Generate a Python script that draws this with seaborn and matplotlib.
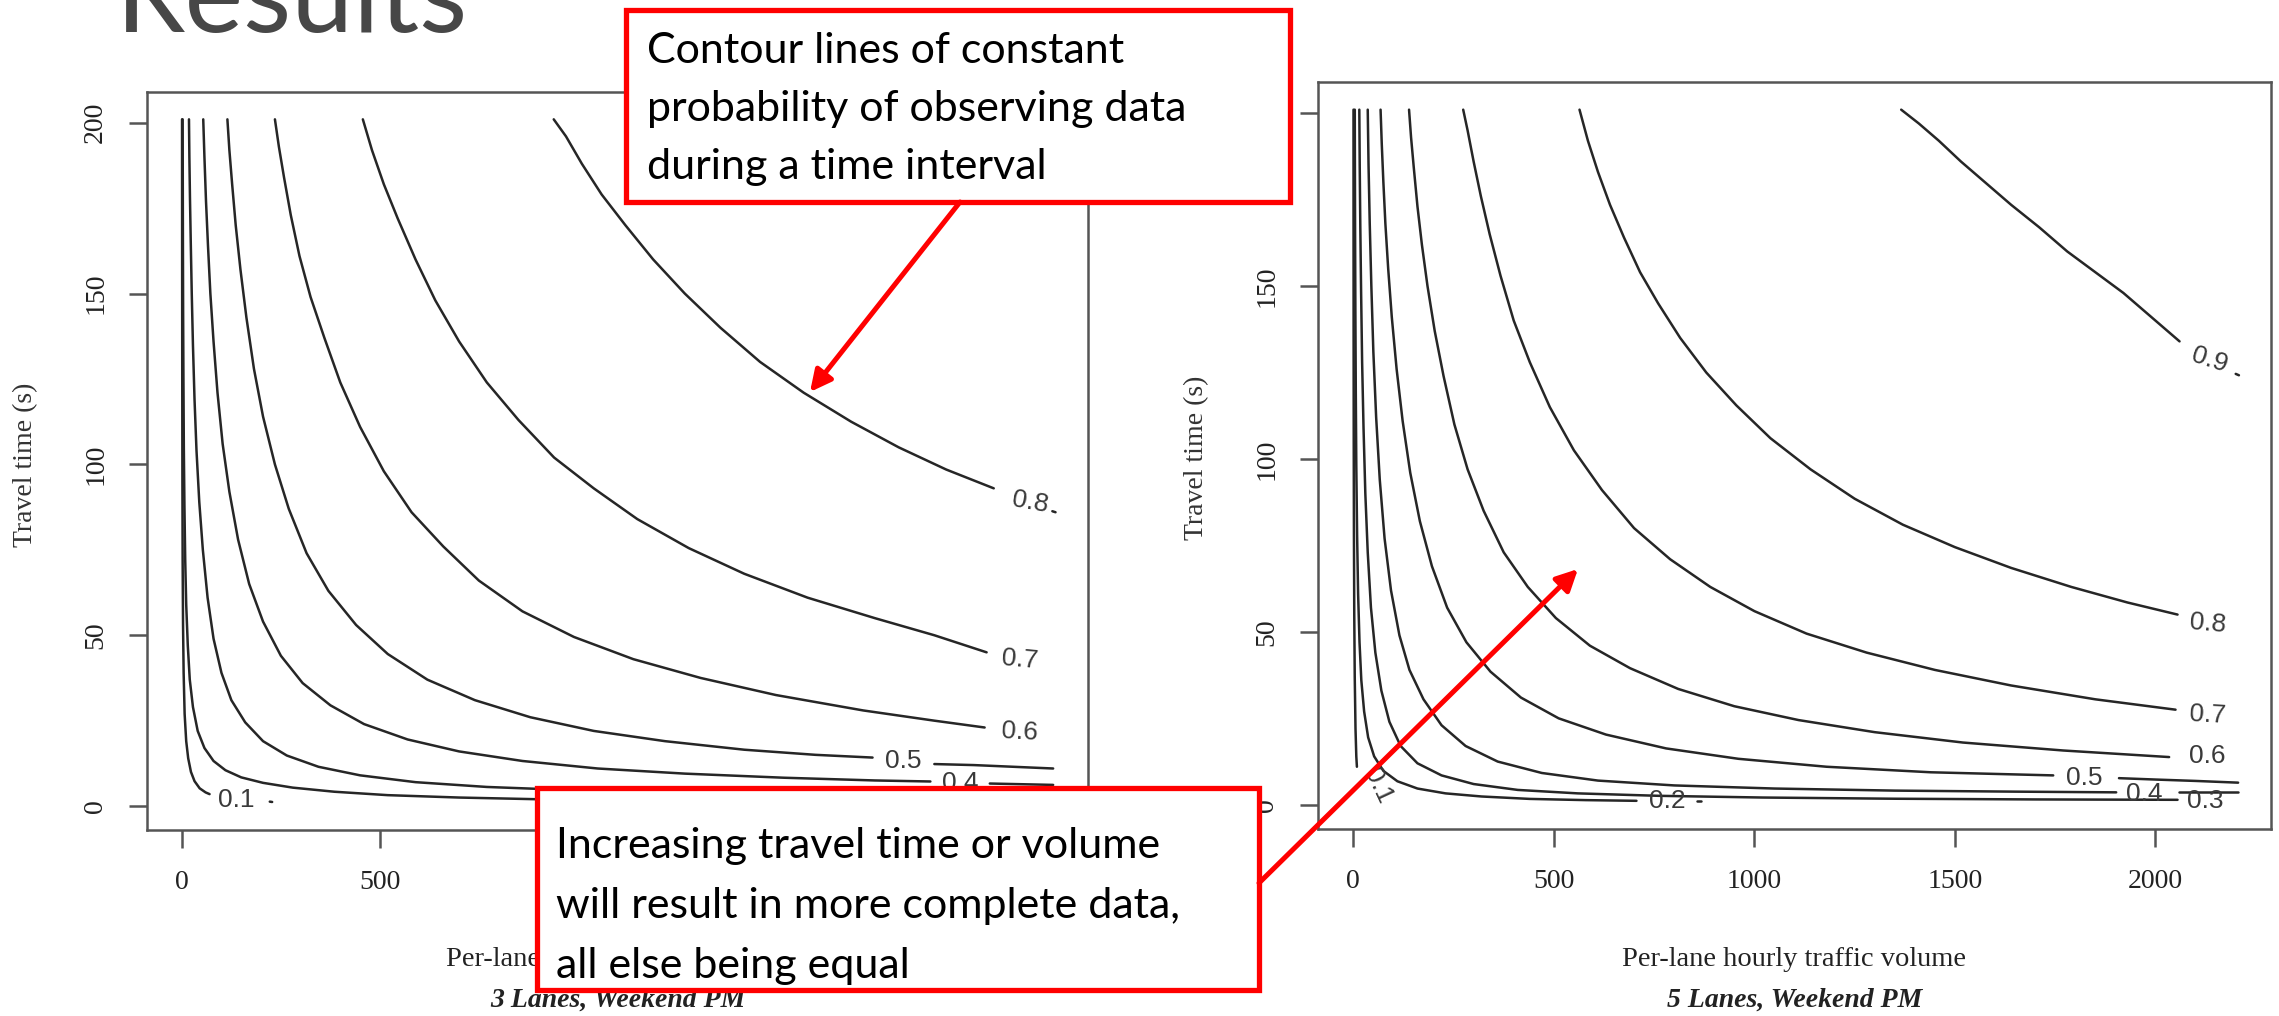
import numpy as np
import pandas as pd
import matplotlib
matplotlib.use("Agg")
import matplotlib.pyplot as plt
import seaborn as sns
from matplotlib.patches import Rectangle

# ---------------- data ----------------
LEVELS_3 = ["0.1", "0.2", "0.3", "0.4", "0.5", "0.6", "0.7", "0.8"]
LEVELS_5 = ["0.1", "0.2", "0.3", "0.4", "0.5", "0.6", "0.7", "0.8", "0.9"]
X_TICKS = [0, 500, 1000, 1500, 2000]
Y_TICKS = [0, 50, 100, 150, 200]

# 3 lanes, weekend PM  (q = per-lane hourly volume, t = travel time s)
L3_Q_01 = [0.5, 0.6, 0.75, 1, 1.4, 2, 3, 4.5, 7, 11, 16, 23, 32, 45, 60, 70]
L3_T_01 = [201, 180, 155, 125, 95, 72, 53, 39, 27, 19, 14, 10, 7.3, 5.2, 4.0, 3.5]
L3_Q_02 = [2, 2.3, 2.7, 3.2, 4, 5, 6.5, 8.5, 11, 15, 20, 28, 40, 57, 80, 110, 150, 205,
           280, 385, 520, 700, 900, 1150]
L3_T_02 = [201, 185, 165, 145, 125, 105, 88, 72, 59, 47, 37, 29, 22, 17, 13.2, 10.5, 8.4, 6.8,
           5.4, 4.2, 3.2, 2.5, 2.0, 1.6]
L3_Q_03 = [18, 19, 20.5, 22.5, 25, 28, 32, 37, 44, 53, 65, 80, 100, 125, 160, 205, 265, 345,
           450, 590, 770, 1000, 1300, 1650, 2000, 2200]
L3_T_03 = [201, 190, 178, 165, 150, 135, 119, 104, 89, 75, 61, 49, 39, 31, 24.5, 19, 14.8, 11.5,
           9, 7, 5.6, 4.6, 3.8, 3.2, 2.8, 2.6]
L3_Q_04 = [54, 57, 61, 66, 72, 80, 90, 103, 120, 142, 170, 205, 250, 305, 375, 460, 570, 700,
           860, 1050, 1270, 1520, 1750, 1890]
L3_T_04 = [201, 190, 177, 164, 150, 136, 121, 106, 92, 78, 65, 54, 44, 36, 29.5, 24, 19.5, 16,
           13.2, 11, 9.5, 8.3, 7.5, 7.2]
L3_Q_05 = [115, 120, 127, 136, 148, 163, 182, 205, 235, 270, 315, 370, 440, 520, 620, 740, 880,
           1040, 1220, 1420, 1600, 1744]
L3_T_05 = [201, 192, 182, 170, 157, 143, 128, 114, 100, 87, 74, 63, 53, 44.5, 37, 31, 26,
           22, 19, 16.5, 15, 14.2]
L3_Q_06 = [235, 245, 258, 275, 297, 325, 360, 400, 450, 510, 580, 660, 750, 860, 990, 1140,
           1310, 1500, 1720, 1900, 2027]
L3_T_06 = [201, 193, 184, 173, 161, 149, 137, 124, 111, 98, 86, 76, 66, 57, 49.5, 43,
           37.5, 32.5, 28, 25, 23]
L3_Q_07 = [457, 480, 510, 545, 590, 640, 700, 770, 850, 940, 1040, 1150, 1280, 1420, 1580,
           1750, 1900, 2032]
L3_T_07 = [201, 192, 182, 172, 160, 148, 136, 124, 113, 102, 93, 84, 75.5, 68, 61,
           55, 50, 45]
L3_Q_08 = [939, 970, 1010, 1060, 1120, 1190, 1270, 1360, 1460, 1570, 1690, 1810, 1930, 2050]
L3_T_08 = [201, 196, 188, 179, 170, 160, 150, 140, 130, 121, 112.5, 105, 98.5, 93]
# short pieces of line left after a label
L3_TAIL_Q = {"0.1": [222, 228], "0.4": [2040, 2200], "0.5": [1900, 2000, 2100, 2200], "0.8": [2198, 2206]}
L3_TAIL_T = {"0.1": [1.3, 1.2], "0.4": [6.6, 6.2], "0.5": [12.3, 12.0, 11.5, 11.0], "0.8": [86.3, 86.0]}
L3_LAB_Q = [138, 1450, 2210, 1966, 1822, 2115, 2115, 2143]
L3_LAB_T = [1.8, 1.0, 2.3, 6.9, 13.3, 21.7, 43, 89]
L3_LAB_ROT = [0, 0, 0, 0, 0, -3, -5, -10]

# 5 lanes, weekend PM
L5_Q_01 = [0.5, 0.6, 0.8, 1.1, 1.6, 2.4, 3.6, 5.5, 7.5, 9]
L5_T_01 = [201, 170, 135, 105, 78, 55, 37, 22, 14, 11]
L5_Q_02 = [3.7, 4, 4.5, 5.2, 6.2, 7.5, 9.5, 12, 15.5, 20, 27, 37, 52, 75, 110, 160, 230, 320,
           440, 580, 706]
L5_T_02 = [201, 185, 165, 143, 120, 98, 78, 61, 47, 36, 27, 19.5, 14, 9.8, 6.8, 4.7, 3.3, 2.4,
           1.7, 1.35, 1.15]
L5_Q_03 = [15, 16, 17.5, 19.5, 22, 25.5, 30, 36, 44, 55, 70, 90, 118, 160, 220, 300, 410, 560,
           760, 1020, 1350, 1700, 2055]
L5_T_03 = [201, 185, 167, 148, 128, 109, 90, 73, 57, 44, 33, 24, 17, 12, 8.5, 6, 4.3, 3.3,
           2.6, 2.1, 1.75, 1.55, 1.44]
L5_Q_04 = [36, 38, 41, 45, 50, 57, 66, 78, 94, 115, 140, 175, 220, 280, 360, 470, 610, 800,
           1050, 1350, 1650, 1902]
L5_T_04 = [201, 185, 168, 150, 131, 112, 94, 77, 62, 49, 39, 30.5, 23, 17, 12.5, 9.2, 7, 5.6,
           4.7, 4.1, 3.8, 3.6]
L5_Q_05 = [68, 71, 75, 80, 87, 96, 108, 123, 142, 166, 196, 234, 282, 342, 418, 512, 630, 780,
           960, 1180, 1440, 1745]
L5_T_05 = [201, 191, 180, 168, 155, 141, 126, 111, 96, 82, 69, 57, 47, 38.5, 31, 25, 20.3, 16.3,
           13.3, 11, 9.4, 8.5]
L5_Q_06 = [139, 144, 151, 160, 171, 185, 203, 225, 252, 285, 325, 375, 435, 505, 590, 690, 810,
           950, 1110, 1300, 1520, 1770, 2034]
L5_T_06 = [201, 193, 184, 173, 162, 150, 137, 124, 110, 97, 85, 73, 63, 54, 46, 39.5, 33.5,
           28.5, 24.5, 21, 18, 15.7, 13.8]
L5_Q_07 = [274, 285, 300, 318, 340, 367, 400, 440, 490, 550, 620, 700, 790, 890, 1000, 1130,
           1280, 1450, 1640, 1850, 2050]
L5_T_07 = [201, 195, 186, 176, 165, 153, 140, 128, 115, 102.5, 91, 80, 71, 63, 56, 49.5,
           44, 39, 34.5, 30.5, 27.5]
L5_Q_08 = [564, 585, 610, 640, 675, 715, 760, 815, 880, 955, 1040, 1140, 1250, 1370, 1500,
           1640, 1790, 1930, 2055]
L5_T_08 = [201, 192, 183, 173.5, 164, 154, 145, 135, 125, 115.5, 106, 97, 88.5, 81, 74.5,
           68.5, 63, 58.5, 55]
L5_Q_09 = [1366, 1410, 1460, 1515, 1575, 1640, 1710, 1780, 1850, 1920, 1990, 2060]
L5_T_09 = [201, 197, 192, 186, 180, 173.5, 167, 160, 154, 148, 141, 134]
L5_TAIL_Q = {"0.2": [858, 866], "0.4": [2058, 2206], "0.5": [1909, 2000, 2100, 2206], "0.9": [2200, 2208]}
L5_TAIL_T = {"0.2": [1.0, 1.0], "0.4": [3.6, 3.6], "0.5": [7.7, 7.3, 6.9, 6.4], "0.9": [124.6, 124.2]}
L5_LAB_Q = [62, 784, 2125, 1972, 1823, 2130, 2130, 2130, 2135]
L5_LAB_T = [5.5, 1.0, 1.0, 3.0, 7.7, 14.0, 26.0, 52.5, 128.5]
L5_LAB_ROT = [-65, 0, 0, 0, 0, 0, -3, -5, -18]

PANEL_TITLES = ["3 Lanes, Weekend PM", "5 Lanes, Weekend PM"]
X_LABEL = "Per-lane hourly traffic volume"
Y_LABEL = "Travel time (s)"
NOTE_TOP = ["Contour lines of constant", "probability of observing data", "during a time interval"]
NOTE_BOTTOM = ["Increasing travel time or volume", "will result in more complete data,", "all else being equal"]

# ---------------- build tables ----------------
def make_df(levels, qs, ts, tails_q, tails_t):
    rows = []
    for lvl, q, t in zip(levels, qs, ts):
        for a, b in zip(q, t):
            rows.append((lvl + "_main", a, b))
    for lvl in tails_q:
        for a, b in zip(tails_q[lvl], tails_t[lvl]):
            rows.append((lvl + "_tail", a, b))
    return pd.DataFrame(rows, columns=["seg", "q", "t"])

df3 = make_df(LEVELS_3,
              [L3_Q_01, L3_Q_02, L3_Q_03, L3_Q_04, L3_Q_05, L3_Q_06, L3_Q_07, L3_Q_08],
              [L3_T_01, L3_T_02, L3_T_03, L3_T_04, L3_T_05, L3_T_06, L3_T_07, L3_T_08],
              L3_TAIL_Q, L3_TAIL_T)
df5 = make_df(LEVELS_5,
              [L5_Q_01, L5_Q_02, L5_Q_03, L5_Q_04, L5_Q_05, L5_Q_06, L5_Q_07, L5_Q_08, L5_Q_09],
              [L5_T_01, L5_T_02, L5_T_03, L5_T_04, L5_T_05, L5_T_06, L5_T_07, L5_T_08, L5_T_09],
              L5_TAIL_Q, L5_TAIL_T)

# ---------------- figure ----------------
sns.set_theme(style="ticks")
plt.rcParams["font.family"] = ["Liberation Serif", "DejaVu Serif"]

W, H = 2279, 1016
fig = plt.figure(figsize=(W / 100, H / 100), dpi=100)
fig.patch.set_facecolor("white")

def px_axes(l, t, r, b):
    return fig.add_axes([l / W, 1 - b / H, (r - l) / W, (b - t) / H])

LINE = "#262626"
SPINE = "#555555"

def style_axes(ax):
    ax.set_facecolor("white")
    ax.set_xlim(-88, 2288)
    ax.set_ylim(-7, 209)
    ax.set_xticks(X_TICKS)
    ax.set_yticks(Y_TICKS)
    ax.set_xticklabels([str(v) for v in X_TICKS])
    ax.set_yticklabels([str(v) for v in Y_TICKS], rotation=90, va="center")
    ax.tick_params(direction="out", length=13, width=1.8, color=SPINE,
                   labelsize=20, labelcolor="#222222")
    ax.tick_params(axis="x", pad=16)
    ax.tick_params(axis="y", pad=15)
    for s in ax.spines.values():
        s.set_visible(True)
        s.set_color(SPINE)
        s.set_linewidth(1.8)
    ax.set_xlabel("")
    ax.set_ylabel("")

panels = [
    (px_axes(147, 92, 1088, 830), df3, LEVELS_3, L3_LAB_Q, L3_LAB_T, L3_LAB_ROT, 26, 465),
    (px_axes(1318, 82, 2271, 829), df5, LEVELS_5, L5_LAB_Q, L5_LAB_T, L5_LAB_ROT, 1197, 458),
]

for i, (ax, df, levels, lq, lt, lr, ylx, yly) in enumerate(panels):
    sns.lineplot(data=df, x="q", y="t", units="seg", estimator=None, sort=False,
                 color=LINE, linewidth=1.8, ax=ax, legend=False)
    style_axes(ax)
    for lvl, q, t, r in zip(levels, lq, lt, lr):
        ax.text(q, t, lvl, fontsize=19, family="Liberation Sans", color="#3a3a3a",
                rotation=r, ha="center", va="center", rotation_mode="anchor")
    pos = ax.get_position()
    cx = (pos.x0 + pos.x1) / 2
    fig.text(cx, 1 - 960 / H, X_LABEL, fontsize=20.5, color="#222222",
             ha="center", va="center")
    fig.text(cx, 1 - 1000 / H, PANEL_TITLES[i], fontsize=20, color="#222222",
             ha="center", va="center", weight="bold", style="italic")
    fig.text(ylx / W, 1 - yly / H, Y_LABEL, fontsize=20, color="#333333",
             rotation=90, ha="center", va="center")

# ---------------- slide overlay ----------------
ov = fig.add_axes([0, 0, 1, 1], zorder=10)
ov.set_xlim(0, W)
ov.set_ylim(H, 0)
ov.axis("off")
ov.patch.set_alpha(0)

ov.text(116, 32, "Results", fontsize=80, family=["Lato", "DejaVu Sans"], weight="normal",
        color="#474747", ha="left", va="baseline")

RED = "#FF0000"
ov.add_patch(Rectangle((626, 10), 664, 192, facecolor="white", edgecolor=RED, linewidth=3.8, zorder=5))
ov.add_patch(Rectangle((537, 788), 722, 202, facecolor="white", edgecolor=RED, linewidth=3.8, zorder=5))

for k, line in enumerate(NOTE_TOP):
    ov.text(647, 63 + 58 * k, line, fontsize=31, family=["Lato", "DejaVu Sans"],
            color="black", ha="left", va="baseline", zorder=6)
for k, line in enumerate(NOTE_BOTTOM):
    ov.text(556, 858 + 60 * k, line, fontsize=31, family=["Lato", "DejaVu Sans"],
            color="black", ha="left", va="baseline", zorder=6)

ov.annotate("", xy=(810, 392), xytext=(960, 202),
            arrowprops=dict(arrowstyle="-|>", color=RED, lw=3.6, mutation_scale=32,
                            shrinkA=0, shrinkB=0), zorder=7)
ov.annotate("", xy=(1578, 569), xytext=(1259, 883),
            arrowprops=dict(arrowstyle="-|>", color=RED, lw=3.6, mutation_scale=32,
                            shrinkA=0, shrinkB=0), zorder=7)

fig.savefig("out.png", dpi=100, facecolor="white")
